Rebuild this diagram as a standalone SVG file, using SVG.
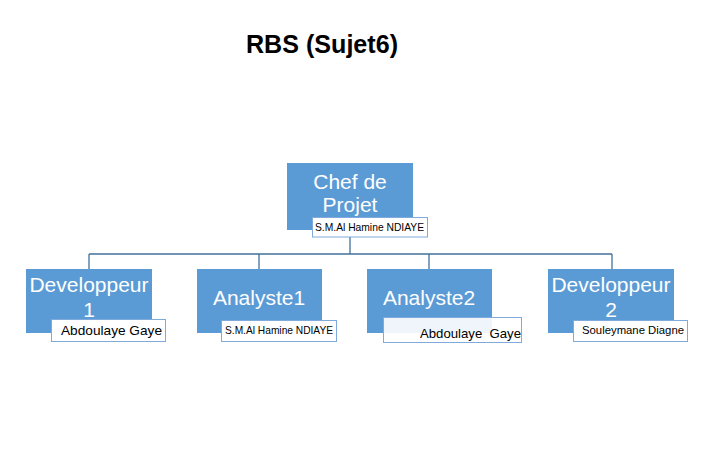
<svg xmlns="http://www.w3.org/2000/svg" width="708" height="462" viewBox="0 0 708 462">
<style>
.box{fill:#5B9BD5;}
.lbl{fill:#FFFFFF;stroke:#7FAADB;stroke-width:1;}
.lblt{fill:#FFFFFF;fill-opacity:0.9;stroke:#7FAADB;stroke-width:1;}
.nt{font-family:"Liberation Sans",Arial,sans-serif;font-size:21px;fill:#FFFFFF;text-anchor:middle;}
.lt{font-family:"Liberation Sans",Arial,sans-serif;fill:#000000;}
.con{fill:none;stroke:#41719C;stroke-width:1.3;}
</style>
<rect width="708" height="462" fill="#FFFFFF"/>
<text x="322" y="53" font-family="'Liberation Sans',Arial,sans-serif" font-weight="bold" font-size="26" text-anchor="middle" textLength="152" lengthAdjust="spacingAndGlyphs">RBS (Sujet6)</text>
<g id="connectors">
<path class="con" d="M350,237 V254 M89,254 H612 M89,254 V269 M259,254 V269 M429,254 V269 M612,254 V269"/>
</g>
<g id="chef">
<rect class="box" x="287" y="163" width="126" height="67"/>
<text class="nt" x="350" y="189">Chef de</text>
<text class="nt" x="350" y="212">Projet</text>
<rect class="lbl" x="312.5" y="217.5" width="115" height="19.5"/>
<text class="lt" x="315" y="231" font-size="10.5" textLength="109" lengthAdjust="spacingAndGlyphs">S.M.Al Hamine NDIAYE</text>
</g>
<g id="dev1">
<rect class="box" x="26" y="269" width="126" height="64"/>
<text class="nt" x="89" y="292">Developpeur</text>
<text class="nt" x="89" y="317">1</text>
<rect class="lbl" x="51.5" y="319.5" width="114" height="22"/>
<text class="lt" x="61" y="335" font-size="13" textLength="101" lengthAdjust="spacingAndGlyphs">Abdoulaye Gaye</text>
</g>
<g id="analyste1">
<rect class="box" x="197" y="269" width="125" height="64"/>
<text class="nt" x="259" y="305">Analyste1</text>
<rect class="lbl" x="221.5" y="320.5" width="115" height="21"/>
<text class="lt" x="225" y="334" font-size="10.5" textLength="108" lengthAdjust="spacingAndGlyphs">S.M.Al Hamine NDIAYE</text>
</g>
<g id="analyste2">
<rect class="box" x="367" y="269" width="125" height="64"/>
<text class="nt" x="429" y="305">Analyste2</text>
<rect class="lblt" x="383.5" y="317.5" width="138" height="25"/>
<text class="lt" x="420" y="338" font-size="13" textLength="101" lengthAdjust="spacingAndGlyphs" xml:space="preserve">Abdoulaye  Gaye</text>
</g>
<g id="dev2">
<rect class="box" x="548" y="269" width="126" height="64"/>
<text class="nt" x="611" y="292">Developpeur</text>
<text class="nt" x="611" y="317">2</text>
<rect class="lbl" x="573.5" y="320.5" width="114" height="21"/>
<text class="lt" x="582" y="334" font-size="11.5" textLength="102" lengthAdjust="spacingAndGlyphs">Souleymane Diagne</text>
</g>
</svg>
